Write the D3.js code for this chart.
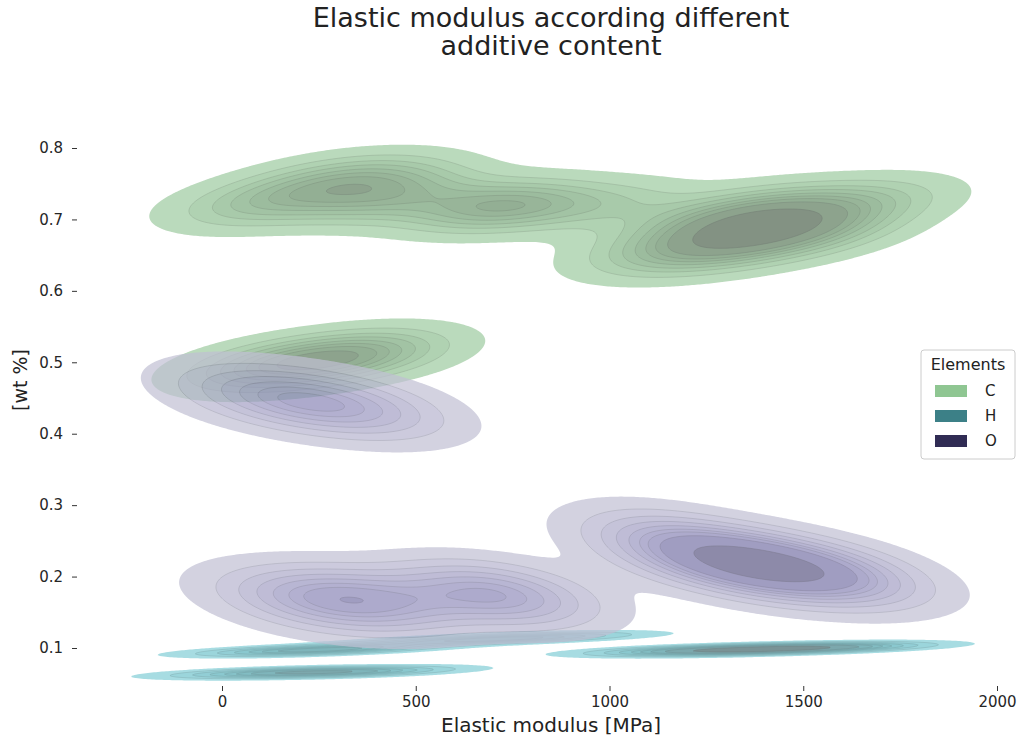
<!DOCTYPE html>
<html>
<head>
<meta charset="utf-8">
<script src="https://cdn.jsdelivr.net/npm/d3@7"></script>
<style>
  body { margin: 0; background: #fff; }
  svg { display: block; font-family: "DejaVu Sans", sans-serif; }
</style>
</head>
<body>
<svg id="chart" width="1020" height="746"></svg>
<script>
// ---- data: elastic modulus [MPa] and additive content [wt %] per element ----
const elements = ["C", "H", "O"];
const elementColors = ["#8fc692", "#3c8087", "#302c54"];

const cModulus = [80, 160, 250, 330, 420,
                  60, 170, 290, 370, 410, 470,
                  650, 720, 790, 1000,
                  1110, 1200, 1260, 1300, 1340, 1380, 1420, 1460, 1520, 1560, 1690];
const cWt      = [0.490, 0.496, 0.503, 0.509, 0.516,
                  0.716, 0.735, 0.756, 0.722, 0.760, 0.738,
                  0.714, 0.724, 0.716, 0.720,
                  0.648, 0.682, 0.655, 0.705, 0.668, 0.690, 0.718, 0.675, 0.712, 0.688, 0.728];

const hModulus = [80, 190, 290, 380,
                  160, 230, 340, 560, 720, 860,
                  1150, 1270, 1340, 1390, 1440, 1530, 1620];
const hWt      = [0.065, 0.066, 0.066, 0.067,
                  0.095, 0.097, 0.100, 0.109, 0.113, 0.116,
                  0.096, 0.097, 0.098, 0.098, 0.099, 0.100, 0.101];

const oModulus = [70, 180, 280, 390,
                  170, 280, 360, 420, 640, 700, 770,
                  1130, 1200, 1280, 1340, 1390, 1420, 1470, 1550, 1640];
const oWt      = [0.456, 0.448, 0.441, 0.433,
                  0.168, 0.165, 0.167, 0.168, 0.173, 0.175, 0.176,
                  0.258, 0.232, 0.225, 0.220, 0.216, 0.214, 0.210, 0.204, 0.197];

const xTicks = [0, 500, 1000, 1500, 2000];
const yTicks = [0.1, 0.2, 0.3, 0.4, 0.5, 0.6, 0.7, 0.8];

const series = [
  { name: "C", modulus: cModulus, wt: cWt, color: elementColors[0] },
  { name: "H", modulus: hModulus, wt: hWt, color: elementColors[1] },
  { name: "O", modulus: oModulus, wt: oWt, color: elementColors[2] }
];

// ---- KDE settings (seaborn-like kdeplot: levels=10, thresh=0.05) ----
const bwAdjust = 0.48;
const nLevels = 10;
const thresh = 0.05;
const fillAlpha = 0.7;

// ---- scales ----
const x = d3.scaleLinear().domain([0, 2000]).range([222, 997]);
const y = d3.scaleLinear().domain([0.1, 0.8]).range([648, 148]);

const svg = d3.select("#chart");

// ---- HUSL helpers for the sequential colormap built from each hue ----
const M = [[3.2406, -1.5372, -0.4986], [-0.9689, 1.8758, 0.0415], [0.0557, -0.2040, 1.0570]];
const MINV = [[0.4124, 0.3576, 0.1805], [0.2126, 0.7152, 0.0722], [0.0193, 0.1192, 0.9505]];
const refU = 0.19784, refV = 0.46834, labE = 0.008856, labK = 903.3;

function maxChroma(L, H) {
  const hr = H * Math.PI / 180, sinH = Math.sin(hr), cosH = Math.cos(hr);
  const sub1 = Math.pow(L + 16, 3) / 1560896;
  const sub2 = sub1 > labE ? sub1 : L / labK;
  let result = Infinity;
  for (const [m1, m2, m3] of M) {
    const top = (0.99915 * m1 + 1.05122 * m2 + 1.14460 * m3) * sub2;
    const rb = 0.86330 * m3 - 0.17266 * m2;
    const lb = 0.12949 * m3 - 0.38848 * m1;
    const bottom = (rb * sinH + lb * cosH) * sub2;
    for (const t of [0, 1]) {
      const C = L * (top - 1.05122 * t) / (bottom + 0.17266 * sinH * t);
      if (C > 0 && C < result) result = C;
    }
  }
  return result;
}
const fwd = t => t > labE ? Math.cbrt(t) : 7.787 * t + 16 / 116;
const inv = t => Math.pow(t, 3) > labE ? Math.pow(t, 3) : (116 * t - 16) / labK;
const toLin = c => c > 0.04045 ? Math.pow((c + 0.055) / 1.055, 2.4) : c / 12.92;
const fromLin = c => c <= 0.0031308 ? 12.92 * c : 1.055 * Math.pow(c, 1 / 2.4) - 0.055;

function rgbToHusl(r, g, b) {
  const l = [toLin(r), toLin(g), toLin(b)];
  const [X, Y, Z] = MINV.map(row => row[0] * l[0] + row[1] * l[1] + row[2] * l[2]);
  const den = X + 15 * Y + 3 * Z;
  const L = 116 * fwd(Y) - 16;
  const U = 13 * L * (4 * X / den - refU);
  const V = 13 * L * (9 * Y / den - refV);
  const C = Math.sqrt(U * U + V * V);
  let H = Math.atan2(V, U) * 180 / Math.PI;
  if (H < 0) H += 360;
  return [H, C / maxChroma(L, H) * 100, L];
}
function huslToRgb(H, S, L) {
  const C = maxChroma(L, H) / 100 * S;
  const hr = H * Math.PI / 180;
  const U = Math.cos(hr) * C, V = Math.sin(hr) * C;
  const vY = inv((L + 16) / 116);
  const vU = U / (13 * L) + refU, vV = V / (13 * L) + refV;
  const Y = vY;
  const X = -(9 * Y * vU) / ((vU - 4) * vV - vU * vV);
  const Z = (9 * Y - 15 * vV * Y - vV * X) / (3 * vV);
  return M.map(row => Math.min(1, Math.max(0, fromLin(row[0] * X + row[1] * Y + row[2] * Z))));
}
function rampFromColor(hex) {
  const c = d3.rgb(hex);
  const [h, s] = rgbToHusl(c.r / 255, c.g / 255, c.b / 255);
  const N = 256, span = Math.floor(1.15 * 256);
  const cols = [];
  for (let i = 0; i < N; i++) {
    const xx = -1 + 2 * i / (span - 1);
    cols.push(huslToRgb(h, s * Math.cos(xx), 35 + 45 * i / (N - 1)));
  }
  cols.reverse();
  return t => {
    const k = Math.max(0, Math.min(N - 1, Math.floor(t * N)));
    const [r, g, b] = cols[k];
    return d3.rgb(r * 255, g * 255, b * 255);
  };
}

// ---- density grid in screen space ----
const grid = { x0: 60, y0: 80, sx: 2, sy: 1 };
grid.nx = Math.ceil((1060 - grid.x0) / grid.sx) + 1;
grid.ny = Math.ceil((705 - grid.y0) / grid.sy) + 1;
const gridU = d3.range(grid.nx).map(i => x.invert(grid.x0 + i * grid.sx));
const gridV = d3.range(grid.ny).map(j => y.invert(grid.y0 + j * grid.sy));

function densityField(mod, wt) {
  const n = mod.length;
  const mx = d3.mean(mod), my = d3.mean(wt);
  let sxx = 0, syy = 0, sxy = 0;
  for (let k = 0; k < n; k++) {
    const dx = mod[k] - mx, dy = wt[k] - my;
    sxx += dx * dx; syy += dy * dy; sxy += dx * dy;
  }
  sxx /= n - 1; syy /= n - 1; sxy /= n - 1;
  const f = Math.pow(n, -1 / 6) * bwAdjust, f2 = f * f;
  const a = sxx * f2, b = sxy * f2, c = syy * f2;
  const det = a * c - b * b;
  const ia = c / det, ib = -b / det, ic = a / det;
  const norm = 1 / (2 * Math.PI * Math.sqrt(det) * n);
  const values = new Float64Array(grid.nx * grid.ny);
  for (let j = 0; j < grid.ny; j++) {
    const v = gridV[j];
    for (let i = 0; i < grid.nx; i++) {
      const u = gridU[i];
      let s = 0;
      for (let k = 0; k < n; k++) {
        const du = u - mod[k], dv = v - wt[k];
        const q = ia * du * du + 2 * ib * du * dv + ic * dv * dv;
        if (q < 60) s += Math.exp(-0.5 * q);
      }
      values[j * grid.nx + i] = s * norm;
    }
  }
  return values;
}

// iso-proportion levels: density values enclosing given fractions of the mass
function isoLevels(values) {
  const sorted = Float64Array.from(values).sort().reverse();
  const total = d3.sum(sorted);
  const cum = new Float64Array(sorted.length);
  let acc = 0;
  for (let i = 0; i < sorted.length; i++) { acc += sorted[i]; cum[i] = acc / total; }
  const props = d3.range(nLevels).map(i => thresh + i * (1 - thresh) / (nLevels - 1));
  return props.map(p => {
    const idx = d3.bisectLeft(cum, 1 - p);
    return sorted[Math.min(idx, sorted.length - 1)];
  });
}

const proj = d3.geoTransform({
  point(px, py) { this.stream.point(grid.x0 + (px - 0.5) * grid.sx, grid.y0 + (py - 0.5) * grid.sy); }
});
const path = d3.geoPath(proj);

const plot = svg.append("g").attr("class", "densities");

series.forEach(s => {
  const values = densityField(s.modulus, s.wt);
  const levels = isoLevels(values);
  const cmap = rampFromColor(s.color);
  const lo = levels[0], hi = levels[nLevels - 1];
  const bands = d3.range(nLevels - 1).map(k => {
    const mid = (levels[k] + levels[k + 1]) / 2;
    return { level: levels[k], color: cmap((mid - lo) / (hi - lo)) };
  });
  const contours = d3.contours().size([grid.nx, grid.ny]).thresholds(bands.map(b => b.level))(values);
  const g = plot.append("g").attr("class", "kde-" + s.name).attr("opacity", fillAlpha);
  g.selectAll("path")
    .data(contours)
    .join("path")
    .attr("d", path)
    .attr("fill", (d, i) => bands[i].color)
    .attr("stroke", (d, i) => i === 0 ? "none" : bands[i].color.darker(0.8))
    .attr("stroke-width", 0.7)
    .attr("stroke-opacity", 0.8);
});

// ---- axes (no spines) ----
const xAxis = svg.append("g")
  .attr("transform", "translate(0,686)")
  .call(d3.axisBottom(x).tickValues(xTicks).tickSize(5).tickPadding(5).tickFormat(d3.format("d")));
const yAxis = svg.append("g")
  .attr("transform", "translate(77,0)")
  .call(d3.axisLeft(y).tickValues(yTicks).tickSize(5).tickPadding(9).tickFormat(d3.format(".1f")));
[xAxis, yAxis].forEach(ax => {
  ax.select(".domain").remove();
  ax.selectAll(".tick line").attr("stroke", "#333");
  ax.selectAll(".tick text").attr("fill", "#262626").attr("font-size", 15).attr("font-family", "DejaVu Sans");
});

// ---- titles ----
const title = svg.append("text")
  .attr("x", 551).attr("y", 27)
  .attr("text-anchor", "middle")
  .attr("font-size", 27)
  .attr("fill", "#222");
title.append("tspan").attr("x", 551).text("Elastic modulus according different");
title.append("tspan").attr("x", 551).attr("dy", 28).text("additive content");

svg.append("text")
  .attr("x", 551).attr("y", 732)
  .attr("text-anchor", "middle")
  .attr("font-size", 20)
  .attr("fill", "#222")
  .text("Elastic modulus [MPa]");

svg.append("text")
  .attr("transform", "translate(27,380) rotate(-90)")
  .attr("text-anchor", "middle")
  .attr("font-size", 19)
  .attr("fill", "#222")
  .text("[wt %]");

// ---- legend ----
const legend = svg.append("g").attr("transform", "translate(921,350)");
legend.append("rect")
  .attr("width", 94).attr("height", 109).attr("rx", 3)
  .attr("fill", "#fff").attr("fill-opacity", 0.8)
  .attr("stroke", "#cccccc");
legend.append("text")
  .attr("x", 47).attr("y", 20)
  .attr("text-anchor", "middle")
  .attr("font-size", 16).attr("fill", "#222")
  .text("Elements");
const items = legend.selectAll("g.item")
  .data(elements)
  .join("g")
  .attr("class", "item")
  .attr("transform", (d, i) => `translate(0,${35 + i * 25})`);
items.append("rect")
  .attr("x", 14).attr("width", 32).attr("height", 12)
  .attr("fill", (d, i) => elementColors[i]);
items.append("text")
  .attr("x", 64).attr("y", 11)
  .attr("font-size", 15).attr("fill", "#222")
  .text(d => d);
</script>
</body>
</html>
